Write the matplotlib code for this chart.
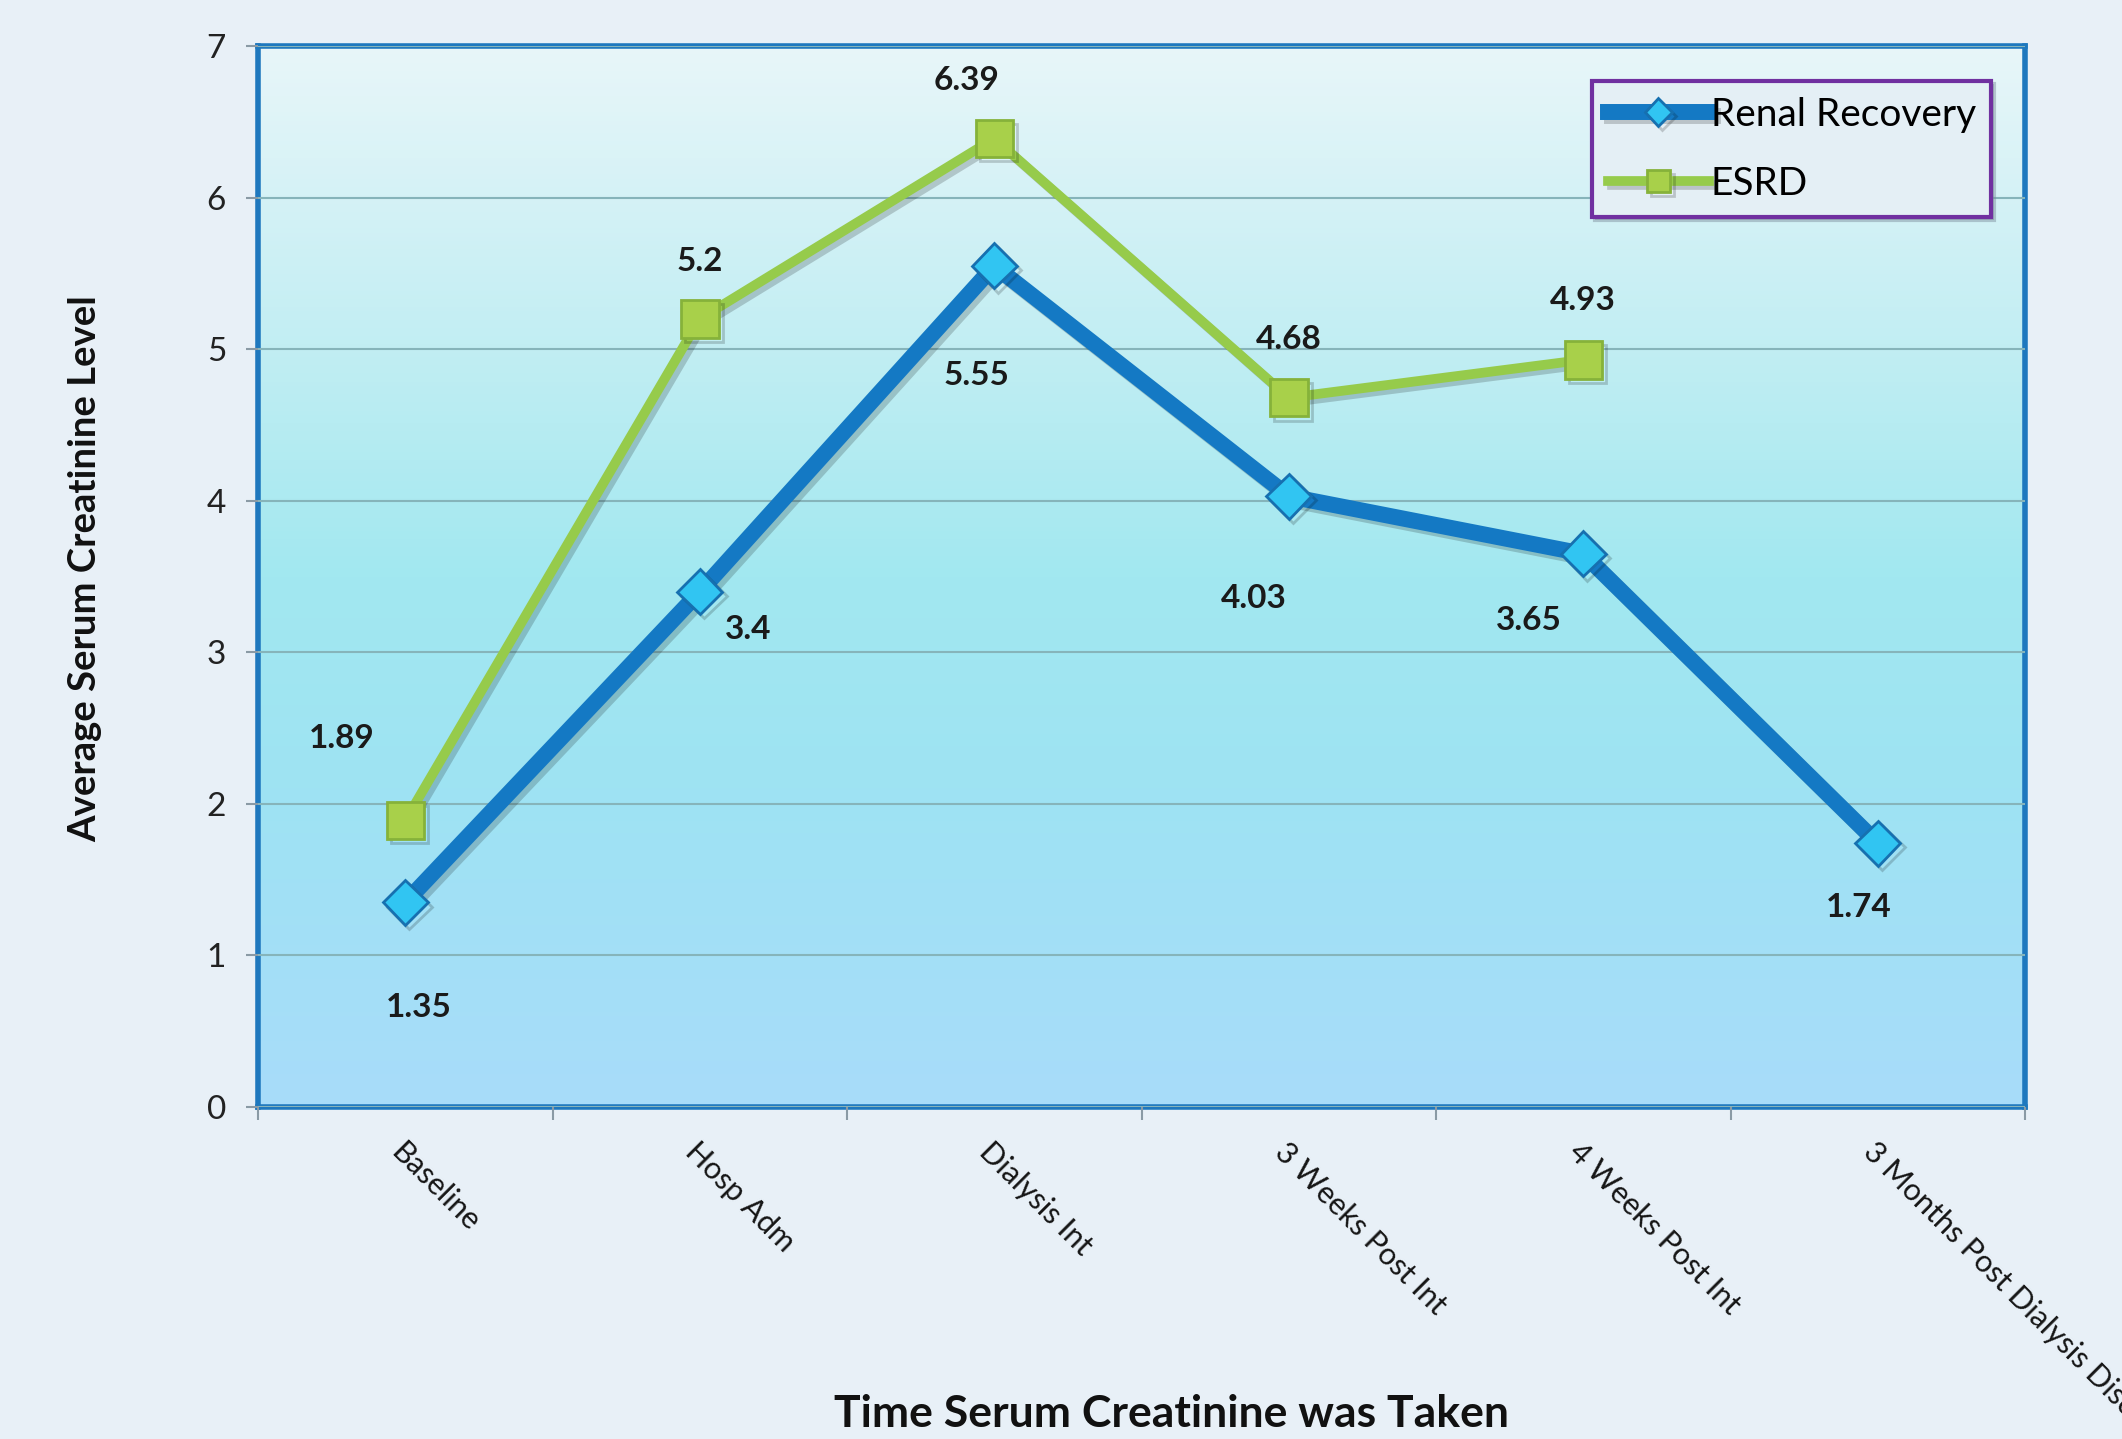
import numpy as np
import matplotlib
matplotlib.use('Agg')
import matplotlib.pyplot as plt
from matplotlib.colors import LinearSegmentedColormap
import matplotlib.patheffects as pe

plt.rcParams['font.family'] = ['Lato', 'DejaVu Sans']

categories = ['Baseline', 'Hosp Adm', 'Dialysis Int', '3 Weeks Post Int',
              '4 Weeks Post Int', '3 Months Post Dialysis Discharge']
renal = [1.35, 3.4, 5.55, 4.03, 3.65, 1.74]
esrd = [1.89, 5.2, 6.39, 4.68, 4.93, np.nan]

# label offsets (points) for each value
renal_off = [(10, -76), (35, -27), (-13, -79), (-25, -74), (-39, -48), (-14, -46)]
esrd_off = [(-46, 59), (0, 41), (-20, 42), (0, 42), (0, 43)]

fig = plt.figure(figsize=(21.22, 14.39), dpi=100)
fig.patch.set_facecolor('#E8F0F7')
ax = fig.add_axes([0.1216, 0.2307, 0.8327, 0.7373])

x = np.arange(len(categories))
ax.set_xlim(-0.5, len(categories) - 0.5)
ax.set_ylim(0, 7)

# gradient fill of the plot area
cmap = LinearSegmentedColormap.from_list('bg', [
    (0.0, '#A8DCFA'), (0.3, '#9EE3F3'), (0.5, '#A2E8F0'),
    (0.72, '#C2EEF3'), (1.0, '#E8F6F9')])
grad = np.linspace(0, 1, 256).reshape(-1, 1)
ax.imshow(grad, cmap=cmap, origin='lower', aspect='auto',
          extent=[-0.5, len(categories) - 0.5, 0, 7], zorder=0)

ax.set_yticks(range(0, 8))
ax.yaxis.grid(True, color='#86B4BA', lw=1.5, zorder=1)
ax.set_axisbelow(False)

shadow = [pe.SimpleLineShadow(offset=(3, -3), alpha=0.18), pe.Normal()]
ax.plot(x, esrd, color='#96CB4B', lw=7, marker='s', markersize=27,
        markerfacecolor='#A8D04A', markeredgecolor='#86B23A', markeredgewidth=2,
        label='ESRD', zorder=3, path_effects=shadow)
ax.plot(x, renal, color='#1479C4', lw=11.5, marker='D', markersize=23,
        markerfacecolor='#31C5F2', markeredgecolor='#1670B0', markeredgewidth=2,
        label='Renal Recovery', zorder=4, path_effects=shadow)

for xi, v, off in zip(x, renal, renal_off):
    ax.annotate(f'{v:g}', (xi, v), xytext=off, textcoords='offset points',
                ha='center', va='center', fontsize=24, fontweight='bold',
                color='#1A1A1A', zorder=6)
for xi, v, off in zip(x, esrd, esrd_off):
    ax.annotate(f'{v:g}', (xi, v), xytext=off, textcoords='offset points',
                ha='center', va='center', fontsize=24, fontweight='bold',
                color='#1A1A1A', zorder=6)

for s in ax.spines.values():
    s.set_color('#1E78BE')
    s.set_linewidth(4)

ax.set_xticks(x)
ax.set_xticklabels(categories, rotation=-45, ha='left', va='top',
                   rotation_mode='anchor', fontsize=22, color='#151515')
ax.set_xticks(np.arange(-0.5, len(categories)), minor=True)
ax.tick_params(axis='x', which='major', length=0, pad=22)
ax.tick_params(axis='x', which='minor', length=9, width=1.5, color='#8A9AA5')
ax.tick_params(axis='y', length=9, width=1.5, color='#8A9AA5', labelsize=24,
               pad=14, labelcolor='#222222')

fig.text(0.5523, 0.0174, 'Time Serum Creatinine was Taken', ha='center',
         va='center', fontsize=32, fontweight='bold', color='#111111')
fig.text(0.040, 0.605, 'Average Serum Creatinine Level', ha='center',
         va='center', rotation=90, fontsize=27.5, fontweight='bold',
         color='#111111')

handles, labels = ax.get_legend_handles_labels()
leg = ax.legend(handles[::-1], labels[::-1], loc='upper right',
                bbox_to_anchor=(0.981, 0.967), borderaxespad=0, fontsize=28,
                markerscale=0.6, handlelength=2.6, handletextpad=0.05,
                borderpad=0.4, labelspacing=0.85, fancybox=False, frameon=True,
                shadow={'color': '#7A8A99', 'alpha': 0.45})
leg.get_frame().set_edgecolor('#7030A0')
leg.get_frame().set_linewidth(3)
leg.get_frame().set_facecolor('#E4EFF5')
leg.get_frame().set_alpha(1)
leg.set_zorder(7)

fig.savefig('out.png', dpi=100)
